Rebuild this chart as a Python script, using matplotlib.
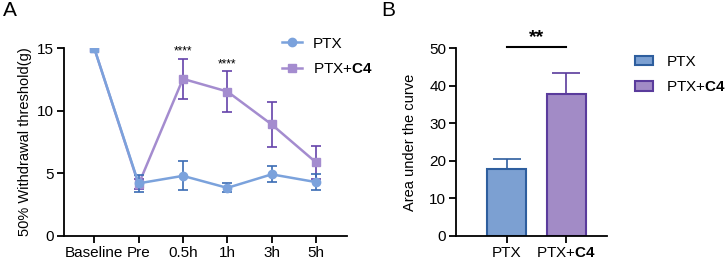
import numpy as np
import matplotlib.pyplot as plt
from matplotlib.lines import Line2D

plt.rcParams['font.family'] = ['Liberation Sans', 'DejaVu Sans']
plt.rcParams['mathtext.fontset'] = 'custom'
plt.rcParams['mathtext.rm'] = 'Liberation Sans'
plt.rcParams['mathtext.bf'] = 'Liberation Sans:bold'

# Panel A data
time_labels = ['Baseline', 'Pre', '0.5h', '1h', '3h', '5h']
ptx_mean = [15.0, 4.2, 4.8, 3.84, 4.92, 4.3]
ptx_err = [0.0, 0.65, 1.15, 0.36, 0.65, 0.66]
c4_mean = [15.0, 4.12, 12.54, 11.53, 8.9, 5.87]
c4_err = [0.0, 0.4, 1.58, 1.62, 1.78, 1.33]
sig_labels = ['', '', '****', '****', '', '']

# Panel B data
groups = ['PTX', 'PTX+$\\bf{C4}$']
auc_mean = [17.7, 37.8]
auc_err = [2.85, 5.5]

blue_line = '#7ba2dc'
blue_dark = '#3b6cb4'
purple_line = '#a48ccf'
purple_dark = '#6543aa'
blue_fill = '#7ca0d2'
blue_edge = '#2e5e9e'
purple_fill = '#a28bc6'
purple_edge = '#5a3b9c'

fig = plt.figure(figsize=(7.25, 2.61), dpi=100)
axA = fig.add_axes([0.0883, 0.0958, 0.3905, 0.7202])
axB = fig.add_axes([0.629, 0.0958, 0.208, 0.7202])

x = np.arange(len(time_labels))

# PTX+C4 first, PTX drawn on top
axA.errorbar(x[1:], c4_mean[1:], yerr=c4_err[1:], fmt='none', ecolor=purple_dark,
             elinewidth=1.2, capsize=3.5, capthick=1.2, zorder=2)
axA.plot(x, c4_mean, color=purple_line, lw=1.8, marker='s', ms=5.5,
         mfc=purple_line, mec=purple_line, zorder=3)
axA.errorbar(x[1:], ptx_mean[1:], yerr=ptx_err[1:], fmt='none', ecolor=blue_dark,
             elinewidth=1.2, capsize=3.5, capthick=1.2, zorder=4)
axA.plot(x, ptx_mean, color=blue_line, lw=1.8, marker='o', ms=6,
         mfc=blue_line, mec=blue_line, zorder=5, markevery=list(range(1, len(x))))
axA.plot(x[:1], ptx_mean[:1], ls='none', marker='s', ms=5.5, color=blue_line, zorder=6)

for xi, m, e, s in zip(x, c4_mean, c4_err, sig_labels):
    if s:
        axA.text(xi, m + e + 0.1, s, ha='center', va='bottom', fontsize=8.5)

axA.set_xlim(-0.68, 5.7)
axA.set_ylim(0, 15)
axA.set_yticks([0, 5, 10, 15])
axA.set_xticks(x)
axA.set_xticklabels(time_labels)
axA.set_ylabel('50% Withdrawal threshold(g)', fontsize=10.5)
for s in ['top', 'right']:
    axA.spines[s].set_visible(False)
for s in ['left', 'bottom']:
    axA.spines[s].set_linewidth(1.3)
axA.tick_params(width=1.3, length=5, labelsize=11, pad=2)

handles_a = [
    Line2D([], [], color=blue_line, lw=1.8, marker='o', ms=6),
    Line2D([], [], color=purple_line, lw=1.8, marker='s', ms=5.5),
]
fig.legend(handles_a, ['PTX', 'PTX+$\\bf{C4}$'], loc='upper left',
           bbox_to_anchor=(0.389, 0.86), bbox_transform=fig.transFigure,
           frameon=False, fontsize=11, handlelength=1.3, handletextpad=0.7,
           labelspacing=0.75, borderpad=0, borderaxespad=0)

# Panel B
xb = np.arange(len(groups))
fills = [blue_fill, purple_fill]
edges = [blue_edge, purple_edge]
bars = axB.bar(xb, auc_mean, width=0.66, color=fills, edgecolor=edges, linewidth=1.5,
               zorder=2)
for xi, m, e, c in zip(xb, auc_mean, auc_err, edges):
    axB.errorbar([xi], [m], yerr=[[0], [e]], fmt='none', ecolor=c, elinewidth=1.2,
                 capsize=10, capthick=1.2, zorder=1)

axB.plot([xb[0], xb[1]], [50.2, 50.2], color='black', lw=1.5, clip_on=False)
axB.text((xb[0] + xb[1]) / 2, 50.6, '**', ha='center', va='bottom', fontsize=14,
         fontweight='bold')

axB.set_xlim(-0.86, 1.69)
axB.set_ylim(0, 50)
axB.set_yticks([0, 10, 20, 30, 40, 50])
axB.set_xticks(xb)
axB.set_xticklabels(groups)
axB.set_ylabel('Area under the curve', fontsize=10.5, labelpad=9)
for s in ['top', 'right']:
    axB.spines[s].set_visible(False)
for s in ['left', 'bottom']:
    axB.spines[s].set_linewidth(1.3)
axB.tick_params(width=1.3, length=5, labelsize=11, pad=2)

fig.legend(bars, groups, loc='upper left', bbox_to_anchor=(0.876, 0.79),
           bbox_transform=fig.transFigure, frameon=False, fontsize=11,
           handlelength=1.2, handleheight=0.6, handletextpad=0.85,
           labelspacing=0.75, borderpad=0, borderaxespad=0)

fig.text(0.004, 0.995, 'A', fontsize=15, va='top', ha='left')
fig.text(0.526, 0.995, 'B', fontsize=15, va='top', ha='left')

fig.savefig('out.png', dpi=100)
